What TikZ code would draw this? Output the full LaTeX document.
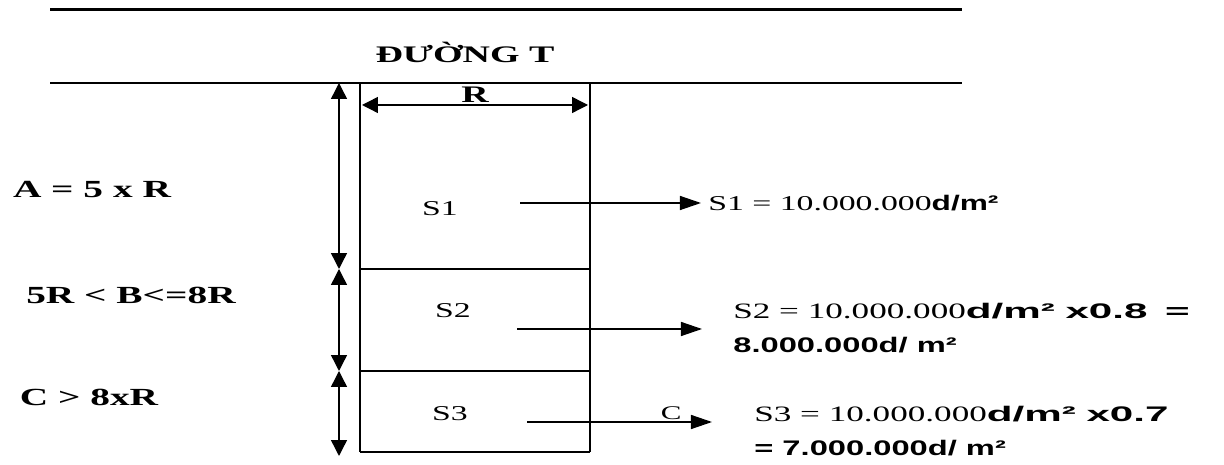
\documentclass[tikz,border=0pt]{standalone}
\usepackage{fontspec}
\setmainfont{Liberation Serif}[FakeStretch=1.6]
\newfontfamily\sansb{Liberation Sans}[FakeStretch=1.5]
\newfontfamily\sansc{Liberation Sans}[FakeStretch=2.0]
\newfontfamily\sansd{Liberation Sans}[FakeStretch=1.55]
\usetikzlibrary{arrows.meta}
\usetikzlibrary{calc}

\begin{document}
\begin{tikzpicture}[x=0.02cm, y=-0.02cm,
    cote/.style={line width=0.8pt, {Triangle[length=9pt,width=9pt]}-{Triangle[length=9pt,width=9pt]}},
    fleche/.style={line width=0.8pt, -{Triangle[length=12pt,width=8pt]}},
    lbl/.style={font=\bfseries\fontsize{14}{15}\selectfont, inner sep=0pt},
    parc/.style={font=\fontsize{12}{14}\selectfont, inner sep=0pt},
    res/.style={font=\fontsize{12}{19}\selectfont, inner sep=0pt, anchor=west, align=left},
    big/.style={font=\fontsize{12.5}{19}\selectfont}]
    \useasboundingbox (0,0) rectangle (1224,465);
    % road
    \draw [line width=1.7pt] (50,10)--(962,10);
    \draw [line width=1.7pt] (50,83)--(962,83);
    \node (duong) at (465,52) [lbl, font=\bfseries\fontsize{13.5}{15}\selectfont] {ĐƯỜNG T};
    % lot corners and limits
    \coordinate (hg) at (360,83);
    \coordinate (hd) at (590,83);
    \coordinate (g1) at (360,269);
    \coordinate (d1) at (590,269);
    \coordinate (g2) at (360,371);
    \coordinate (d2) at (590,371);
    \coordinate (bg) at (360,452);
    \coordinate (bd) at (590,452);
    \draw [line width=1.6pt] (hg)--(bg);
    \draw [line width=1.6pt] (hd)--(bd);
    \draw [line width=0.9pt] (bg)--(bd);
    \draw [line width=0.7pt] (g1)--(d1);
    \draw [line width=0.7pt] (g2)--(d2);
    % R
    \coordinate (ra) at (362,105);
    \coordinate (rb) at (588,105);
    \draw [cote] (ra)--(rb) node[midway, above=1pt, lbl, font=\bfseries\fontsize{13.5}{15}\selectfont] (r) {R};
    % depth
    \coordinate (c0) at (339,83);
    \coordinate (c1) at (339,269);
    \coordinate (c2) at (339,371);
    \coordinate (c3) at (339,456);
    \draw [cote] (c0)--(c1);
    \draw [cote] (c1)--(c2);
    \draw [cote] (c2)--(c3);
    \node (a) at (92,190) [lbl] {A = 5 x R};
    \node (b) at (131,295) [lbl] {5R < B<=8R};
    \node (c) at (89,397) [lbl] {C > 8xR};
    % parts
    \node (s1) at (440,209) [parc] {S1};
    \node (s2) at (453,311) [parc] {S2};
    \node (s3) at (450,414) [parc] {S3};
    \node (t1) at (708,203) [res] {S1 = 10.000.000{\sansb\bfseries d/m²}};
    \node (t2) at (733,328) [res, big] {S2 = 10.000.000{\sansc\bfseries\fontsize{12}{19}\selectfont d/m²\hspace{6pt}x0.8\hspace{10pt}=}\\{\sansd\bfseries\fontsize{12}{19}\selectfont 8.000.000d/ m²}};
    \node (t3) at (754,431) [res, big] {S3 = 10.000.000{\sansc\bfseries\fontsize{12}{19}\selectfont d/m²\hspace{6pt}x0.7}\\{\sansd\bfseries\fontsize{12}{19}\selectfont = 7.000.000d/ m²}};
    \coordinate (f1) at (520,203);
    \coordinate (f2) at (517,329);
    \coordinate (f3) at (527,422);
    \draw [fleche, shorten >=4pt] (f1)--(t1.west);
    \draw [fleche] (f2)--(702,329);
    \draw [fleche] (f3)--(712,422) node[pos=0.78, above=1pt, parc, font=\fontsize{11}{12}\selectfont] (cc) {C};
\end{tikzpicture}
\end{document}
